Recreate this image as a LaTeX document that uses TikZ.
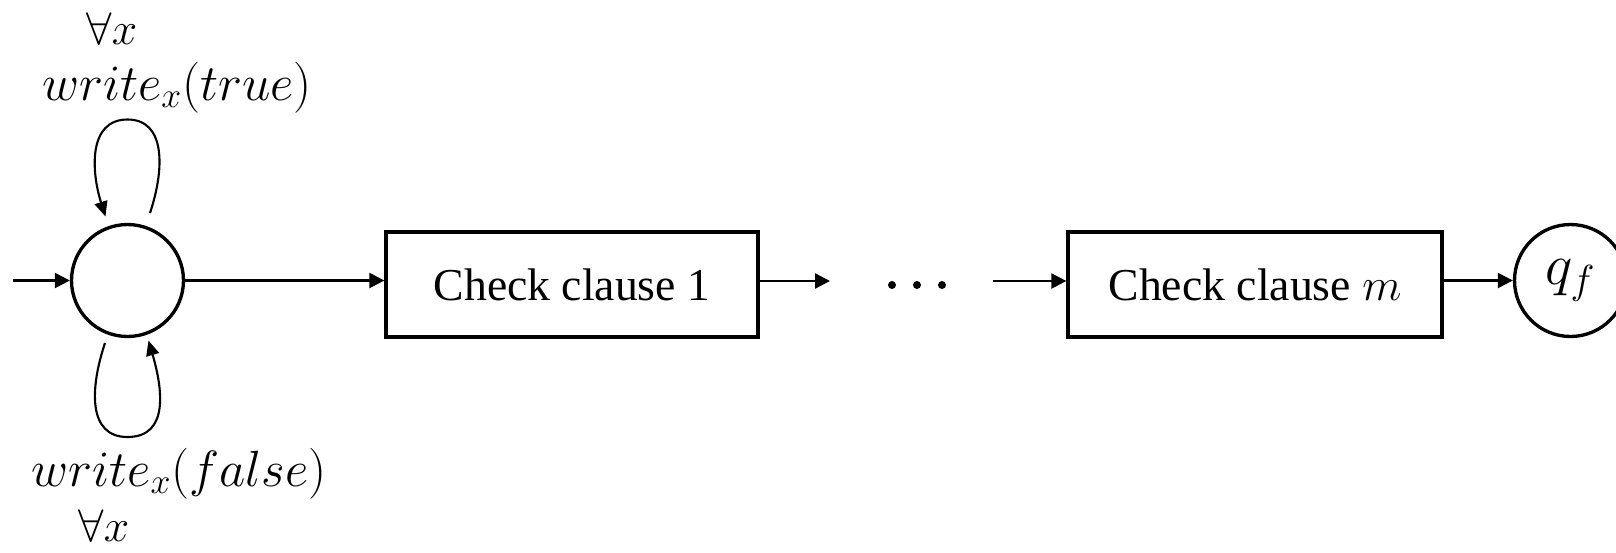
\RequirePackage{fix-cm}
\documentclass[tikz,border=0pt]{standalone}
\usepackage{fontspec}
\setmainfont{Liberation Serif}
\usetikzlibrary{arrows.meta,calc}
\begin{document}
\begin{tikzpicture}[x=0.02cm,y=-0.02cm,
  state/.style={circle,draw,line width=1.9pt,minimum size=2.24cm,inner sep=0pt,font=\fontsize{33}{37}\selectfont},
  clausebox/.style={rectangle,draw,line width=1.9pt,minimum width=7.44cm,minimum height=2.1cm,font=\fontsize{26}{30}\selectfont},
  arr/.style={line width=1.3pt,-{Triangle[length=0.3cm,width=0.3cm]}},
  looparr/.style={line width=1.2pt,-{Triangle[length=0.3cm,width=0.26cm]}},
  dotmark/.style={circle,fill,inner sep=0pt,minimum size=0.16cm},
  lbl/.style={font=\fontsize{29}{33}\selectfont,inner sep=0pt,anchor=base},
  qlbl/.style={lbl,font=\fontsize{26}{30}\selectfont}]
\useasboundingbox (0,0) rectangle (1616,552);
\node[state] (s0) at (127.5,280.5) {};
\node[state] (qf) at (1570.5,280.5) {$q_f$};
\node[clausebox] (c1) at (572,284.5) {Check clause 1};
\node[clausebox, minimum width=7.48cm] (cm) at (1255,284.5) {Check clause $m$};
\node[dotmark] (dot1) at (892,285) {};
\node[dotmark] (dot2) at (917,285) {};
\node[dotmark] (dot3) at (942,285) {};
\coordinate (init) at (13,280.5);
\coordinate (d1) at (830,281);
\coordinate (d2) at (993,281);
\draw[arr] (init) -- (s0.west);
\draw[arr] (s0.east) -- (c1.west |- s0.east);
\draw[arr] (c1.east |- d1) -- (d1);
\draw[arr] (d2) -- (cm.west |- d2);
\draw[arr] (cm.east |- qf) -- (qf.west);
% self loops
\draw[looparr] ($(s0.center)+(22.5,-67.5)$) .. controls +(15,-45) and +(38,0) .. ($(s0.center)+(0,-161)$) .. controls +(-40,0) and +(-14,-44) .. ($(s0.center)+(-22,-64)$);
\draw[looparr] ($(s0.center)+(-22.5,62.5)$) .. controls +(-15,45) and +(-40,0) .. ($(s0.center)+(0,156.5)$) .. controls +(42,0) and +(14,48) .. ($(s0.center)+(21,60)$);
% labels
\node[qlbl] (t1) at (112,44) {$\forall x$};
\node[lbl] (t2) at (177,100) {$write_x(true)$};
\node[lbl] (b1) at (179,486) {$write_x(false)$};
\node[qlbl] (b2) at (104,541) {$\forall x$};
\end{tikzpicture}
\end{document}
